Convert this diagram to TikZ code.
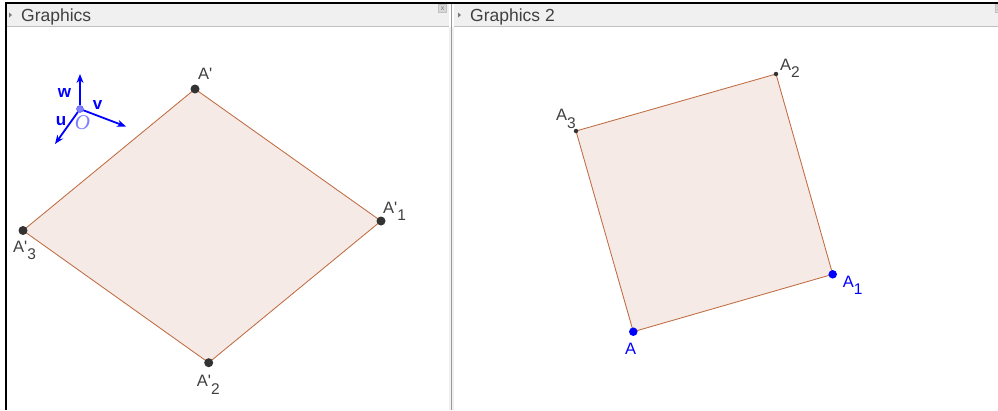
\documentclass[tikz,border=0pt]{standalone}
\usepackage{fontspec}
\setmainfont{Liberation Sans}[Ligatures=TeXOff]
\newfontfamily\ggbserif{Liberation Serif}
\usepackage{tikz}
\usetikzlibrary{positioning, arrows.meta, backgrounds}
\definecolor{ggbBrown}{RGB}{192,108,66}
\definecolor{ggbFill}{RGB}{245,234,229}
\definecolor{ggbInk}{RGB}{64,64,64}
\definecolor{ggbDot}{RGB}{51,51,51}
\definecolor{ggbBlue}{RGB}{0,0,255}
\definecolor{ggbLilac}{RGB}{128,128,255}
\definecolor{ggbBar}{RGB}{240,240,240}
\definecolor{ggbRule}{RGB}{192,192,192}
\newcommand{\ggbsub}[1]{\raisebox{-7.5pt}{\fontsize{15.5}{15.5}\selectfont #1}}

\begin{document}
\begin{tikzpicture}[x=1pt, y=-1pt, font=\fontsize{16.5}{16.5}\selectfont, text=ggbInk,
    bigdot/.style={circle, fill=ggbDot, inner sep=0pt, minimum size=9pt},
    smalldot/.style={circle, fill=ggbDot, inner sep=0pt, minimum size=4.5pt},
    bluedot/.style={circle, fill=ggbBlue, inner sep=0pt, minimum size=8.5pt},
    ptlabel/.style={anchor=base west, inner sep=0pt},
    poly/.style={draw=ggbBrown, fill=ggbFill, line width=0.85pt, line join=round},
    axis/.style={-{Stealth[length=9pt, width=7pt]}, ggbBlue, line width=1.8pt},
    axlabel/.style={text=ggbBlue, font=\fontsize{17}{17}\selectfont\bfseries, inner sep=0pt},
    title/.style={anchor=base west, inner sep=0pt, font=\fontsize{17.5}{17.5}\selectfont},
    closebox/.style={draw=ggbRule, fill=ggbBar!90!black, inner sep=0pt,
                     minimum width=8pt, minimum height=8pt,
                     font=\fontsize{7}{7}\selectfont, text=ggbInk!70}]
  \clip (0,0) rectangle (998,410);
  \begin{scope}[on background layer]
    \fill[white] (0,0) rectangle (998,410);
  \end{scope}

  % window frame and headers
  \fill[ggbBar] (6,3) rectangle (449,26);
  \fill[ggbBar] (454,3) rectangle (998,26);
  \draw[ggbRule, line width=1pt] (6,26.5) -- (449,26.5);
  \draw[ggbRule, line width=1pt] (454,26.5) -- (998,26.5);
  \fill[ggbBar] (449,27) rectangle (454,410);
  \draw[ggbRule!80!black, line width=1pt] (451.5,3) -- (451.5,410);
  \draw[black, line width=1.5pt] (5,3) -- (998,3);
  \draw[black, line width=1.5pt] (6,3) -- (6,410);

  \fill[ggbInk!70] (9,12.5) -- (12,15) -- (9,17.5) -- cycle;
  \fill[ggbInk!70] (458,12.5) -- (461,15) -- (458,17.5) -- cycle;
  \node[title] (tLeft) at (21,21.5) {Graphics};
  \node[title] (tRight) at (470,21.5) {Graphics 2};
  \node[closebox] (xLeft) at (442.5,8.5) {x};
  \node[closebox] (xRight) at (999,8.5) {x};

  % axes icon
  \node[circle, fill=ggbLilac, draw=ggbBlue!70, inner sep=0pt, minimum size=7pt] (O) at (80,109) {};
  \coordinate (wEnd) at (80,74);
  \coordinate (vEnd) at (126,126.5);
  \coordinate (uEnd) at (55,144);
  \draw[axis] (O) -- (wEnd);
  \draw[axis] (O) -- (vEnd);
  \draw[axis] (O) -- (uEnd);
  \node[axlabel] (wLab) at (64.5,93.5) {w};
  \node[axlabel] (vLab) at (97.5,105) {v};
  \node[axlabel] (uLab) at (61,121) {u};
  \node[inner sep=0pt, text=ggbLilac, font=\fontsize{21}{21}\selectfont\ggbserif\itshape] (oLab) at (82.5,123) {O};

  % image square (left)
  \node[bigdot] (Ap) at (195,89) {};
  \node[bigdot] (Ap1) at (381,221) {};
  \node[bigdot] (Ap2) at (208.7,362.7) {};
  \node[bigdot] (Ap3) at (23,230.5) {};
  \begin{scope}[on background layer]
    \draw[poly] (Ap.center) -- (Ap1.center) -- (Ap2.center) -- (Ap3.center) -- cycle;
  \end{scope}
  \node[ptlabel, xshift=3pt, yshift=10pt] (lAp) at (Ap) {A'};
  \node[ptlabel, xshift=2pt, yshift=8pt] (lAp1) at (Ap1) {A'\ggbsub{1}};
  \node[ptlabel, xshift=-12pt, yshift=-24pt] (lAp2) at (Ap2) {A'\ggbsub{2}};
  \node[ptlabel, xshift=-10pt, yshift=-21.5pt] (lAp3) at (Ap3) {A'\ggbsub{3}};

  % square (right)
  \node[bluedot] (A) at (633.3,331.7) {};
  \node[bluedot] (A1) at (832.7,274.3) {};
  \node[smalldot] (A2) at (776,74) {};
  \node[smalldot] (A3) at (576,131) {};
  \begin{scope}[on background layer]
    \draw[poly] (A.center) -- (A1.center) -- (A2.center) -- (A3.center) -- cycle;
  \end{scope}
  \node[ptlabel, text=ggbBlue, xshift=-8.5pt, yshift=-22.3pt] (lA) at (A) {A};
  \node[ptlabel, text=ggbBlue, xshift=10pt, yshift=-13pt] (lA1) at (A1) {A\ggbsub{1}};
  \node[ptlabel, xshift=4pt, yshift=4pt] (lA2) at (A2) {A\ggbsub{2}};
  \node[ptlabel, xshift=-20pt, yshift=10.3pt] (lA3) at (A3) {A\ggbsub{3}};
\end{tikzpicture}
\end{document}
